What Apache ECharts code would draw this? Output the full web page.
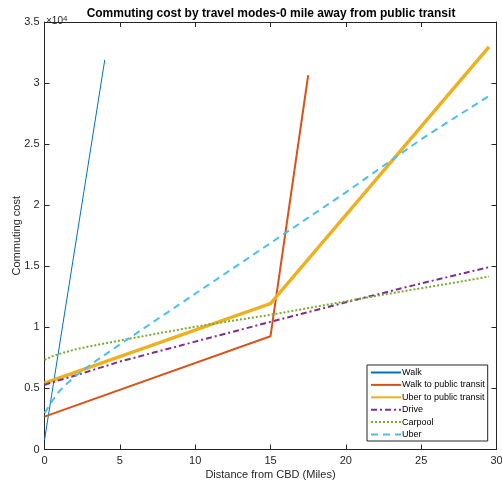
<!DOCTYPE html>
<html>
<head>
<meta charset="utf-8">
<script src="https://cdn.jsdelivr.net/npm/echarts@6/dist/echarts.min.js"></script>
<style>
  html, body { margin: 0; padding: 0; background: #fff; }
  #chart { width: 502px; height: 487px; }
</style>
</head>
<body>
<div id="chart"></div>
<script>
// Commuting cost (dollars) against distance from the CBD (miles), per travel mode
const walkMiles = [0, 4];
const walkCost = [780, 31900];

const walkTransitMiles = [0, 15, 17.5];
const walkTransitCost = [2690, 9280, 30640];

const uberTransitMiles = [0, 15, 29.5];
const uberTransitCost = [5430, 11950, 32970];

const driveMiles = [0, 1, 2, 5, 10, 15, 20, 25, 29.5];
const driveCost = [5290, 5680, 6040, 7200, 8830, 10450, 12050, 13600, 14930];

const carpoolMiles = [0, 0.5, 1, 2, 3, 5, 7.5, 10, 12.5, 15, 17.5, 20, 22.5, 25, 27.5, 29.5];
const carpoolCost = [7340, 7620, 7830, 8180, 8450, 8920, 9500, 10050, 10550, 11020, 11580, 12130, 12680, 13200, 13720, 14160];

const uberMiles = [0, 0.5, 1, 1.5, 2, 3, 5, 10, 15, 20, 25, 29.5];
const uberCost = [2970, 3950, 4800, 5400, 5950, 6900, 8600, 12750, 16900, 21050, 25400, 28950];

const xTicks = { min: 0, max: 30, interval: 5 };
const yTicks = { min: 0, max: 35000, interval: 5000 };

const pairs = (xs, ys) => xs.map((x, i) => [x, ys[i]]);

const FONT = 'Liberation Sans, Arial, Helvetica, sans-serif';
const AXIS = '#262626';

const chart = echarts.init(document.getElementById('chart'), null, { renderer: 'canvas' });

function lineSeries(name, data, color, width, type) {
  return {
    name, type: 'line', data, showSymbol: false, symbol: 'none',
    lineStyle: { color, width, type, cap: 'butt', join: 'miter' },
    itemStyle: { color },
    emphasis: { disabled: true },
    xAxisIndex: 0, yAxisIndex: 0,
    z: 3
  };
}

const baseX = {
  type: 'value', min: xTicks.min, max: xTicks.max, interval: xTicks.interval,
  splitLine: { show: false },
  axisLine: { show: true, onZero: false, lineStyle: { color: AXIS, width: 1 } },
  axisTick: { show: true, inside: true, length: 5, lineStyle: { color: AXIS } }
};
const baseY = {
  type: 'value', min: yTicks.min, max: yTicks.max, interval: yTicks.interval,
  splitLine: { show: false },
  axisLine: { show: true, onZero: false, lineStyle: { color: AXIS, width: 1 } },
  axisTick: { show: true, inside: true, length: 5, lineStyle: { color: AXIS } }
};

chart.setOption({
  animation: false,
  backgroundColor: '#ffffff',
  textStyle: { fontFamily: FONT },
  title: [
    {
      text: 'Commuting cost by travel modes-0 mile away from public transit',
      left: 266, top: 3, textAlign: 'center',
      textStyle: { fontFamily: FONT, fontSize: 12, fontWeight: 'bold', color: '#000' }
    },
    {
      text: '×10{s|4}',
      left: 41, top: 10,
      textStyle: {
        fontFamily: FONT, fontSize: 10, fontWeight: 'normal', color: AXIS,
        rich: { s: { fontFamily: FONT, fontSize: 8, color: AXIS, verticalAlign: 'top', padding: [0, 0, 5, 0] } }
      }
    }
  ],
  grid: { left: 44.5, right: 5.5, top: 22, bottom: 37.5, containLabel: false, outerBoundsMode: 'none' },
  legend: {
    orient: 'vertical',
    left: 367, top: 365,
    backgroundColor: '#ffffff',
    borderColor: AXIS, borderWidth: 1,
    padding: [3, 3, 2, 3],
    itemWidth: 30, itemHeight: 8, itemGap: 3.4,
    selectedMode: false,
    itemStyle: { opacity: 0 },
    textStyle: { fontFamily: FONT, fontSize: 9, color: '#000', padding: [0, 0, 0, -4] },
    data: ['Walk', 'Walk to public transit', 'Uber to public transit', 'Drive', 'Carpool', 'Uber']
  },
  xAxis: [
    Object.assign({}, baseX, {
      position: 'bottom',
      name: 'Distance from CBD (Miles)', nameLocation: 'middle', nameGap: 20, nameMoveOverlap: false,
      nameTextStyle: { fontFamily: FONT, fontSize: 11, color: AXIS },
      axisLabel: { show: true, color: AXIS, fontFamily: FONT, fontSize: 11, margin: 6 }
    }),
    Object.assign({}, baseX, { position: 'top', axisLabel: { show: false } })
  ],
  yAxis: [
    Object.assign({}, baseY, {
      position: 'left',
      name: 'Commuting cost', nameLocation: 'middle', nameGap: 22, nameMoveOverlap: false,
      nameTextStyle: { fontFamily: FONT, fontSize: 11, color: AXIS },
      axisLabel: {
        show: true, color: AXIS, fontFamily: FONT, fontSize: 11, margin: 5,
        formatter: v => String(v / 10000)
      }
    }),
    Object.assign({}, baseY, { position: 'right', axisLabel: { show: false } })
  ],
  series: [
    lineSeries('Walk', pairs(walkMiles, walkCost), '#0072BD', 1, 'solid'),
    lineSeries('Walk to public transit', pairs(walkTransitMiles, walkTransitCost), '#D95319', 2, 'solid'),
    lineSeries('Uber to public transit', pairs(uberTransitMiles, uberTransitCost), '#EDB120', 3.5, 'solid'),
    lineSeries('Drive', pairs(driveMiles, driveCost), '#7E2F8E', 2, [6, 3, 2, 3]),
    lineSeries('Carpool', pairs(carpoolMiles, carpoolCost), '#77AC30', 2, [2, 2]),
    lineSeries('Uber', pairs(uberMiles, uberCost), '#4DBEEE', 2, [7, 5])
  ]
});
</script>
</body>
</html>
